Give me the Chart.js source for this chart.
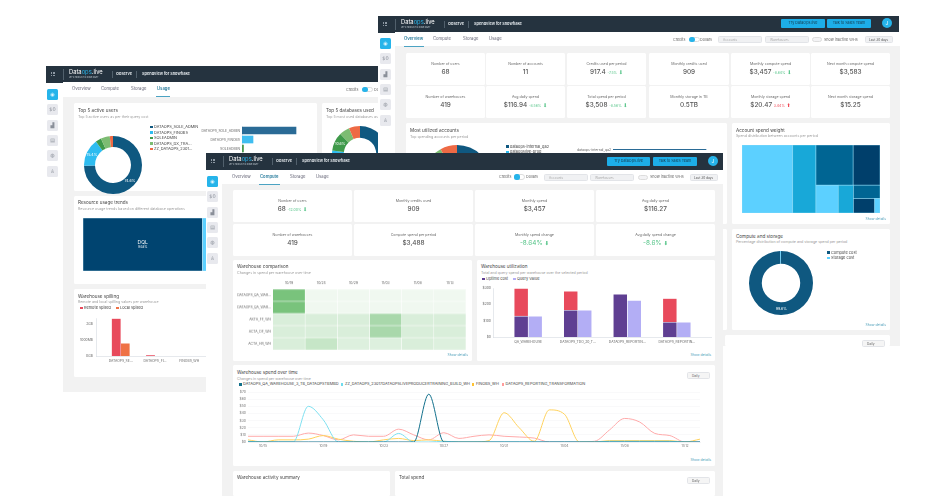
<!DOCTYPE html>
<html>
<head>
<meta charset="utf-8">
<script src="https://cdn.jsdelivr.net/npm/chart.js@4/dist/chart.umd.min.js"></script>
<style>
  html, body { margin: 0; padding: 0; background: #fff; overflow: hidden; }
  #page { position: relative; width: 948px; height: 496px; overflow: hidden; font-family: Inter, sans-serif; color: #444; filter: blur(0.35px); }
  #page div, #page canvas { position: absolute; white-space: nowrap; box-sizing: border-box; }
  .card { background: #fff; border-radius: 1.5px; }
  .gray { background: #f2f2f2; }
  .dark { background: #25333f; }
  .title { font-size: 4.6px; color: #444; }
  .sub { font-size: 3.6px; color: #999; }
  .tab { font-size: 4.2px; color: #667; }
  .tab.on { color: #2d7f9f; font-weight: 600; }
  .ctl { font-size: 3.7px; color: #666; }
  .sel { background: #f0f1f3; border: .4px solid #e2e4e8; border-radius: 1.5px; font-size: 3.2px; color: #aaa; padding-left: 4px; }
  .btn { background: #1daee8; border-radius: 1px; font-size: 3.7px; color: #163a4c; text-align: center; }
  .kt { font-size: 3.6px; color: #666; text-align: center; }
  .kv { font-size: 6.4px; color: #555; text-align: center; font-weight: 500; }
  .up { color: #ef4a57; font-size: 3.5px; font-weight: 400; }
  .down { color: #55c488; font-size: 3.5px; font-weight: 400; }
  .lg { font-size: 3.9px; color: #444; }
  .more { font-size: 3.4px; color: #4b9db8; text-align: right; }
</style>
</head>
<body>
<div id="page"></div>
<script>
// DATA
const spendDates = ['10/14','10/15','10/16','10/17','10/18','10/19','10/20','10/21','10/22','10/23','10/24','10/25','10/26','10/27','10/28','10/29','10/30','10/31','11/01','11/02','11/03','11/04','11/05','11/06','11/07','11/08','11/09','11/10','11/11','11/12','11/13'];
const spendTicks = ['$0','$10','$20','$30','$40','$50','$60','$70'];
const spendQa     = [0,0,0,0,0,0,0,0,0,0,0,0,67,0,0,0,0,0,0,0,0,0,0,0,0,0,0,0,0,0,0];
const spendZz     = [1,0,0,0,50,31,0,0,0,0,12,0,0,1,0,0,0,0,0,0,0,0,0,0,1,1,1,1,1,0,0];
const spendFinobs = [3,0,3,3,4,9,4,1,0,3,5,2,3,1,0,0,2,41,20,1,45,39,0,0,2,2,2,2,2,0,4];
const spendReport = [8,8,8,8,12.5,9,3,10,8,8,18,10,3,13,5,8,10,8,7,5.5,0,0,0,1,17,33,28,12,9,0,0];
const spendNames  = ['DATAOPS_QA_WAREHOUSE_3_TB_DATAOPSTBMBD','ZZ_DATAOPS_23017DATAOPSLIVEPRODUCERTRAINING_BUILD_WH','FINOBS_WH','DATAOPS_REPORTING_TRANSFORMATION'];

const heatDates = ['10/19','10/24','10/29','11/03','11/08','11/13'];
const heatRows  = ['DATAOPS_QA_WAR...','DATAOPS_QA_WAR...','AKTA_FF_WH','ACTA_DF_WH','ACTA_HR_WH'];
const heatRow1  = [100,5,5,5,5,5];
const heatRow2  = [100,5,5,5,5,5];
const heatRow3  = [23,23,23,62,23,23];
const heatRow4  = [23,23,23,62,23,23];
const heatRow5  = [23,38,20,20,23,20];

const utilNames  = ['QA_WAREHOUSE','DATAOPS_TDO_20_T...','DATAOPS_REPORTIN...','DATAOPS_REPORTIN...'];
const utilUptime = [128,164,262,90];
const utilIdle   = [170,116,0,146];
const utilQuery  = [128,164,224,90];
const utilTicks  = ['$0','$100','$200','$300'];

const spillNames  = ['DATAOPS_SE...','DATAOPS_FI...','FINOBS_WH'];
const spillRemote = [2360,40,0];
const spillLocal  = [800,0,0];
const spillTicks  = ['0GB','1000MB','2GB'];

const userNames  = ['DATAOPS_SOLE_ADMIN','DATAOPS_FINOBS','SOLEADMIN','DATAOPS_DX_TRA...','ZZ_DATAOPS_2301...'];
const userShare  = [74.6,15.4,3.2,5,1.8];
const userCost   = [54,11,1.5,1,0.5];
const dbShare    = [68,9,10.6,6,6.4];

const accountNames = ['dataops-internal_qa2','dataopslive-prod'];
const accountShare = [60,26,6,8];
const accountCost  = [93];
const computeNames = ['Compute cost','Storage cost'];
const computeShare = [99.6,0.4];

const weightValues = [36.8,16.8,15.9,11.5,6.6,4.5,3.8,3.3,0.8];
const weightTree   = [0,1,[[2,3],[4,5,[6,[7,8]]]]];
const usageValues  = [94.8,5.2];
const usageLabels  = ['DQL','94.8%'];

const rightKpis = [
  ['Number of users','68'],['Number of accounts','11'],['Credits used per period','917.4','-7.5%','down'],
  ['Monthly credits used','909'],['Monthly compute spend','$3,457','-8.64%','down'],['Next month compute spend','$3,583'],
  ['Number of warehouses','419'],['Avg daily spend','$116.94','-8.56%','down'],['Total spend per period','$3,508','-8.56%','down'],
  ['Monthly storage in TB','0.5TB'],['Monthly storage spend','$20.47','3.44%','up'],['Next month storage spend','$15.25']
];
const frontKpis = [
  ['Number of users','68','-12.00%','down'],['Monthly credits used','909'],['Monthly spend','$3,457'],['Avg daily spend','$116.27'],
  ['Number of warehouses','419'],['Compute spend per period','$3,488'],['Monthly spend change','','-8.64%','big'],['Avg daily spend change','','-8.6%','big']
];

// HELPERS
const page = document.getElementById('page');

function el(cls, x, y, w, h, text, css) {
  const d = document.createElement('div');
  d.className = cls;
  d.style.cssText = `left:${x}px;top:${y}px;` + (w ? `width:${w}px;` : '') + (h ? `height:${h}px;line-height:${h}px;` : '') + (css || '');
  if (text) d.innerHTML = text;
  page.appendChild(d);
  return d;
}

function txt(cls, x, y, text, w, css) { return el(cls, x, y - 4, w, 8, text, css); }

function addCanvas(x, y, w, h) {
  const c = document.createElement('canvas');
  c.width = w; c.height = h;
  c.style.cssText = `left:${x}px;top:${y}px;width:${w}px;height:${h}px;`;
  page.appendChild(c);
  return c.getContext('2d');
}

function pinW(w) { return s => { s.width = w; }; }
function pinH(h) { return s => { s.height = h; }; }
// linear axes don't land on round numbers when min/max are not multiples of the step
function fixedTicks(values) { return s => { s.ticks = values.map(value => ({ value })); }; }
const tickFont = { family: 'Inter', size: 3.4 };

function baseOptions(extra) {
  return Object.assign({
    responsive: false, animation: false, events: [],
    layout: { padding: 0 },
    plugins: { legend: { display: false }, tooltip: { enabled: false } }
  }, extra);
}

// white percentage labels in the slices
const sliceLabels = {
  id: 'sliceLabels',
  afterDatasetsDraw(chart, args, opts) {
    const ctx = chart.ctx, ds = chart.data.datasets[0];
    ctx.save();
    ctx.fillStyle = '#fff';
    ctx.font = '3.6px Inter';
    ctx.textAlign = 'center';
    ctx.textBaseline = 'middle';
    chart.getDatasetMeta(0).data.forEach((arc, i) => {
      if (ds.data[i] < (opts.minShare || 10)) return;
      const p = arc.tooltipPosition();
      ctx.fillText(ds.data[i] + '%', p.x, p.y);
    });
    ctx.restore();
  }
};

function donut(x, y, size, values, colors, cutout) {
  new Chart(addCanvas(x, y, size, size), {
    type: 'doughnut',
    data: { datasets: [{ data: values, backgroundColor: colors, borderWidth: 0 }] },
    options: baseOptions({ cutout: cutout }),
    plugins: [sliceLabels]
  });
}

// treemap laid out from the values through the chart's own linear scales
function splitTree(node, values, box, alongX, out) {
  if (typeof node === 'number') { out.push({ i: node, box: box }); return; }
  const weight = n => typeof n === 'number' ? values[n] : n.reduce((a, b) => a + weight(b), 0);
  const total = weight(node);
  let pos = alongX ? box.x0 : box.y0;
  node.forEach(child => {
    const span = (alongX ? box.x1 - box.x0 : box.y1 - box.y0) * weight(child) / total;
    const sub = alongX ? { x0: pos, x1: pos + span, y0: box.y0, y1: box.y1 } : { x0: box.x0, x1: box.x1, y0: pos, y1: pos + span };
    splitTree(child, values, sub, !alongX, out);
    pos += span;
  });
}

const treemap = {
  id: 'treemap',
  afterDatasetsDraw(chart, args, o) {
    const { ctx, scales } = chart, tiles = [];
    splitTree(o.tree, o.values, { x0: 0, x1: 100, y0: 0, y1: 100 }, true, tiles);
    tiles.forEach(t => {
      const l = scales.x.getPixelForValue(t.box.x0), r = scales.x.getPixelForValue(t.box.x1);
      const a = scales.y.getPixelForValue(t.box.y0), b = scales.y.getPixelForValue(t.box.y1);
      ctx.fillStyle = o.colors[t.i];
      ctx.fillRect(l, a, r - l, b - a);
      ctx.strokeStyle = o.stroke;
      ctx.lineWidth = 0.5;
      ctx.strokeRect(l, a, r - l, b - a);
      if (o.labels && t.i === 0) {
        ctx.fillStyle = '#fff';
        ctx.textAlign = 'center';
        ctx.font = '5px Inter';
        ctx.fillText(o.labels[0], (l + r) / 2, (a + b) / 2 - 0.5);
        ctx.font = '3px Inter';
        ctx.fillText(o.labels[1], (l + r) / 2, (a + b) / 2 + 3.5);
      }
    });
  }
};

function treemapChart(x, y, w, h, values, tree, colors, stroke, labels) {
  new Chart(addCanvas(x, y, w, h), {
    type: 'scatter',
    data: { datasets: [{ data: [] }] },
    options: baseOptions({
      scales: {
        x: { type: 'linear', min: 0, max: 100, display: false },
        y: { type: 'linear', min: 0, max: 100, reverse: true, display: false }
      },
      plugins: { legend: { display: false }, tooltip: { enabled: false }, treemap: { values, tree, colors, stroke, labels } }
    }),
    plugins: [treemap]
  });
}

function hbar(x, y, w, h, labelW, names, values, colors, max, thickness) {
  new Chart(addCanvas(x, y, w, h), {
    type: 'bar',
    data: { labels: names, datasets: [{ data: values, backgroundColor: colors, barThickness: thickness }] },
    options: baseOptions({
      indexAxis: 'y',
      scales: {
        x: { min: 0, max: max, display: false },
        y: {
          afterFit: pinW(labelW),
          grid: { display: false, drawTicks: false },
          border: { color: '#ccd3da', width: 0.5 },
          ticks: { font: tickFont, color: '#666', autoSkip: false, padding: 2 }
        }
      }
    })
  });
}

function header(x, y, w) {
  el('dark', x, y, w, 16.5);
  for (let r = 0; r < 3; r++) for (let c = 0; c < 3; c++) el('', x + 5 + c * 1.7, y + 5.5 + r * 1.7, 1.1, 1.1, '', 'background:#8d98a3');
  el('', x + 17, y + 3, 0.4, 11, '', 'background:#51606c');
  txt('', x + 23, y + 6, 'Data<span style="color:#2ab3e8">ops</span>.live', 0, 'font-size:5.8px;color:#fff;');
  txt('', x + 23, y + 10.8, 'LET\'S PRODUCT IS DONE RIGHT', 0, 'font-size:1.9px;color:#c3ccd3;');
  txt('', x + 70, y + 8, 'Observe', 0, 'font-size:3.9px;color:#e6ebef;font-weight:600;');
  el('', x + 66, y + 5, 0.4, 7, '', 'background:#51606c');
  el('', x + 90, y + 5, 0.4, 7, '', 'background:#51606c');
  txt('', x + 96, y + 8, 'Spendview for Snowflake', 0, 'font-size:3.9px;color:#e6ebef;font-weight:600;');
}

function tabs(xs, y, active, underline) {
  ['Overview','Compute','Storage','Usage'].forEach((t, i) => {
    txt('tab' + (i === active ? ' on' : ''), xs[i], y, t);
  });
  el('', underline[0], y + 6.5, underline[1] - underline[0], 0.7, '', 'background:#4ba3c3');
}

function sidebar(x, y) {
  const marks = ['', '$0', '▟', '▤', '◍', '♙'];
  marks.forEach((m, i) => {
    const on = i === 0;
    el('', x, y + i * 15.3, 11, 11, on ? '◉' : m, `background:${on ? '#26b4ea' : '#e8e9ee'};color:${on ? '#dff5fd' : '#8a8f99'};border-radius:1.5px;font-family:'DejaVu Sans';font-size:5px;text-align:center;`);
  });
}

function kpi(x, y, w, h, k) {
  el('card', x, y, w, h);
  txt('kt', x, y + 10.7, k[0], w);
  let v = k[1];
  if (k[3] === 'big') {
    v = `<span style="color:#55c488;font-weight:400">${k[2]} <span style="font-family:'DejaVu Sans';font-size:5.5px">⬇</span></span>`;
  } else if (k[2]) {
    const arrow = k[3] === 'up' ? '⬆' : '⬇';
    v += ` <span class="${k[3]}">${k[2]}</span> <span class="${k[3]}" style="font-family:'DejaVu Sans';font-size:5px">${arrow}</span>`;
  }
  txt('kv', x, y + 19.3, v, w);
}

function swatch(x, y, color, s) { el('', x, y - (s || 2.6) / 2, s || 2.6, s || 2.6, '', `background:${color}`); }
function legendItem(x, y, color, label, tx) { swatch(x, y, color); txt('lg', tx || x + 4, y, label); }

function controls(o) {
  txt('ctl', o.credits, o.y, 'Credits');
  el('', o.toggle, o.y - 2.7, 11, 5.4, '', 'background:#fff;border:.4px solid #ddd;border-radius:3px;');
  el('', o.toggle, o.y - 2.7, 6, 5.4, '', 'background:#26b4ea;border-radius:2.5px;');
  if (o.dollars) txt('ctl', o.dollars, o.y, 'Dollars');
}

function fullControls(o) {
  controls(o);
  el('sel', o.sel1[0], o.y - 3.5, o.sel1[1] - o.sel1[0], 7, 'Accounts');
  el('sel', o.sel2[0], o.y - 3.5, o.sel2[1] - o.sel2[0], 7, 'Warehouses');
  el('', o.tog2, o.y - 2.5, 10, 5, '', 'background:#f3f3f5;border:.4px solid #ddd;border-radius:3px;');
  txt('ctl', o.tog2 + 12, o.y, 'Show inactive WHs');
  el('sel', o.last[0], o.y - 3.5, o.last[1] - o.last[0], 7, 'Last 30 days', 'color:#555;padding-left:3px;');
}

function daily(x, y) { el('sel', x, y, 23, 6.5, 'Daily', 'color:#666;background:#f5f5f5;padding-left:4px;'); }

// LEFT WINDOW (Usage)
el('', 46, 82, 17, 310, '', 'background:#fff');
el('gray', 63, 82, 330, 310);
header(46, 66, 340);
el('', 63, 82, 330, 15, '', 'background:#fff');
tabs([72, 101, 131, 157], 89, 3, [156, 170]);
sidebar(47, 89);
controls({ credits: 346, toggle: 362, y: 89.5, dollars: 374 });

el('card', 74, 103, 243, 88);
txt('title', 78, 111, 'Top 5 active users');
txt('sub', 78, 116.5, 'Top 5 active users as per their query cost');
const userColors = ['#0f5880','#2ebcf0','#3f9a4a','#7cbc72','#ee6a45'];
donut(84, 136, 58, userShare, userColors, '62%');
userNames.forEach((n, i) => legendItem(150, 127 + i * 5.5, userColors[i], n));
hbar(196, 122, 106, 53, 46, userNames, userCost, ['#2a6b96','#3fbdf0','#4a9a50','#7cbc72','#ee6a45'], 60, 7);

el('card', 322, 103, 80, 88);
txt('title', 326, 111, 'Top 5 databases used');
txt('sub', 326, 116.5, 'Top 5 most used databases as per their query cost');
donut(332, 126, 56, dbShare, ['#0f5880','#2ebcf0','#3f9a4a','#7cbc72','#ee6a45'], '58%');

el('card', 74, 196, 180, 88);
txt('title', 78, 203, 'Resource usage trends');
txt('sub', 78, 209, 'Resource usage trends based on different database operations');
treemapChart(83, 218, 126, 53, usageValues, [0,1], ['#004470','#5cd0ff'], '#bfe6f7', usageLabels);

el('card', 74, 289, 180, 88);
txt('title', 78, 297, 'Warehouse spilling');
txt('sub', 78, 302, 'Remote and local spilling values per warehouse');
legendItem(80, 308, '#e84a5c', 'Remote spilled', 84);
legendItem(116, 308, '#ef7246', 'Local spilled', 120);
new Chart(addCanvas(76, 313, 150, 52), {
  type: 'bar',
  data: {
    datasets: [
      { data: spillRemote.map((v, i) => ({ x: i + 1, y: v })), backgroundColor: '#e84a5c', barThickness: 9, borderColor: '#fff', borderWidth: 0.4 },
      { data: spillLocal.map((v, i) => ({ x: i + 1, y: v })), backgroundColor: '#ef7246', barThickness: 9, borderColor: '#fff', borderWidth: 0.4 }
    ]
  },
  options: baseOptions({
    scales: {
      x: {
        type: 'linear', min: 0.28, max: 4.07, offset: false,
        afterBuildTicks: fixedTicks([1, 2, 3]),
        afterFit: pinH(9),
        grid: { display: false, drawTicks: false, offset: false },
        border: { color: '#ccd3da', width: 0.5 },
        ticks: { font: tickFont, color: '#666', autoSkip: false, maxRotation: 0, padding: 3, callback: v => spillNames[v - 1] || '' }
      },
      y: {
        min: 0, max: 2400,
        afterBuildTicks: fixedTicks([0, 1000, 2000]),
        afterFit: pinW(20),
        grid: { display: false, drawTicks: false },
        border: { color: '#ccd3da', width: 0.5 },
        ticks: { font: tickFont, color: '#666', padding: 3, callback: v => spillTicks[v / 1000] }
      }
    }
  })
});

// RIGHT WINDOW (Overview)
el('', 378, 32, 17, 314, '', 'background:#fff');
el('gray', 395, 46, 505, 300);
header(378, 16, 521);
el('', 395, 32, 504, 14, '', 'background:#fff');
tabs([404, 433, 463, 489], 39, 0, [404, 424]);
sidebar(380, 38);
el('btn', 781, 19, 44, 8.5, 'Try DataOps.live');
el('btn', 827, 19, 44, 8.5, 'Talk to Sales Team');
el('', 882, 18, 10, 10, 'J', 'background:#26b4ea;border-radius:50%;color:#fff;font-size:5px;text-align:center;');
fullControls({ credits: 673, toggle: 689, dollars: 700, y: 39.5, sel1: [718, 762], sel2: [765, 809], tog2: 812, last: [865, 893] });

const rightXs = [406, 486, 567, 649, 731, 811];
const rightWs = [79, 79, 79, 80, 79, 79];
rightKpis.forEach((k, i) => {
  const c = i % 6;
  kpi(rightXs[c], i < 6 ? 53 : 86, rightWs[c], 32, k);
});

el('card', 406, 123, 321, 101);
txt('title', 410, 131, 'Most utilized accounts');
txt('sub', 410, 136.5, 'Top spending accounts per period');
donut(423, 145, 68, accountShare, ['#0f5880','#2ebcf0','#7cbc72','#ee6a45'], '60%');
legendItem(506, 146.5, '#0f5880', accountNames[0]);
legendItem(506, 152, '#2ebcf0', accountNames[1]);
hbar(535, 144.5, 190, 9, 78, [accountNames[0]], accountCost, ['#2a6b96'], 112, 8);

el('card', 406, 229, 321, 101);
el('card', 732, 123, 158, 101);
txt('title', 736, 131, 'Account spend weight');
txt('sub', 736, 136, 'Spend distribution between accounts per period');
treemapChart(742, 145, 138, 68, weightValues, weightTree,
  ['#5cd0ff','#18a8d8','#006593','#003f6b','#5cd0ff','#18a8d8','#006593','#003f6b','#5cd0ff'], '#8fdcf7');
el('more', 840, 217, 46, 4, 'Show details');

el('card', 732, 229, 158, 101);
txt('title', 736, 237, 'Compute and storage');
txt('sub', 736, 242, 'Percentage distribution of compute and storage spend per period');
const computeColors = ['#0f5880','#5cd0ff'];
donut(749, 251, 64, computeShare, computeColors, '60%');
computeNames.forEach((n, i) => legendItem(827, 252.5 + i * 5.5, computeColors[i], n));
el('more', 840, 323, 46, 4, 'Show details');

el('card', 725, 335, 165, 11);
daily(862, 340);

// FRONT WINDOW (Compute)
el('', 206, 170, 16, 326, '', 'background:#fff');
el('gray', 222, 184, 501, 312);
header(206, 153, 517);
el('', 222, 170, 501, 14, '', 'background:#fff');
tabs([232, 260, 290, 316], 177, 1, [259, 280]);
sidebar(207, 176);
el('btn', 607, 157, 43, 8.5, 'Try DataOps.live');
el('btn', 653, 157, 44, 8.5, 'Talk to Sales Team');
el('', 708, 156, 10, 10, 'J', 'background:#26b4ea;border-radius:50%;color:#fff;font-size:5px;text-align:center;');
fullControls({ credits: 499, toggle: 514, dollars: 526, y: 177, sel1: [544, 588], sel2: [590, 634], tog2: 638, last: [690, 718] });

const frontXs = [233, 354, 475, 596];
frontKpis.forEach((k, i) => {
  kpi(frontXs[i % 4], i < 4 ? 190 : 224, 119, 32, k);
});

// heatmap: one stacked bar row per warehouse, one dataset per date
el('card', 233, 260, 239, 101);
txt('title', 237, 267, 'Warehouse comparison');
txt('sub', 237, 273, 'Changes in spend per warehouse over time');
const heatValues = [heatRow1, heatRow2, heatRow3, heatRow4, heatRow5];
const heatColor = v => `rgba(76,175,80,${0.05 + 0.7 * v / 100})`;
new Chart(addCanvas(235, 279, 231, 74.5), {
  type: 'bar',
  data: {
    labels: heatRows,
    datasets: heatDates.map((d, c) => ({
      label: d,
      data: heatRows.map(() => 1),
      backgroundColor: ctx => heatColor(heatValues[ctx.dataIndex][c]),
      borderColor: '#fff', borderWidth: 0.6,
      barPercentage: 1, categoryPercentage: 1
    }))
  },
  options: baseOptions({
    indexAxis: 'y',
    scales: {
      x: {
        stacked: true, type: 'linear', min: 0, max: 6, position: 'top',
        afterBuildTicks: fixedTicks([0.5, 1.5, 2.5, 3.5, 4.5, 5.5]),
        afterFit: pinH(10),
        grid: { display: false, drawTicks: false }, border: { display: false },
        ticks: { font: tickFont, color: '#666', autoSkip: false, maxRotation: 0, padding: 4, callback: v => heatDates[v - 0.5] || '' }
      },
      y: {
        stacked: true,
        afterFit: pinW(38),
        grid: { display: false, drawTicks: false }, border: { display: false },
        ticks: { font: tickFont, color: '#666', autoSkip: false, padding: 2 }
      }
    }
  })
});
el('more', 422, 353, 46, 4, 'Show details');

el('card', 477, 260, 238, 101);
txt('title', 481, 267, 'Warehouse utilization');
txt('sub', 481, 273, 'Total and query spend per warehouse over the selected period');
legendItem(482, 279, '#5f3f92', 'Uptime cost', 486);
legendItem(513, 279, '#b3aef5', 'Query Value', 517);
const utilPoints = arr => arr.map((v, i) => ({ x: i + 1, y: v }));
new Chart(addCanvas(478, 284, 234, 61), {
  type: 'bar',
  data: {
    datasets: [
      { data: utilPoints(utilUptime), stack: 'cost', backgroundColor: '#5f3f92', barThickness: 14, borderColor: '#fff', borderWidth: 0.6 },
      { data: utilPoints(utilIdle), stack: 'cost', backgroundColor: '#e84a5c', barThickness: 14, borderColor: '#fff', borderWidth: 0.6 },
      { data: utilPoints(utilQuery), stack: 'query', backgroundColor: '#b3aef5', barThickness: 14, borderColor: '#fff', borderWidth: 0.6 }
    ]
  },
  options: baseOptions({
    scales: {
      x: {
        type: 'linear', min: 0.29, max: 4.71, stacked: true, offset: false,
        afterBuildTicks: fixedTicks([1, 2, 3, 4]),
        afterFit: pinH(8),
        grid: { display: false, drawTicks: false, offset: false },
        border: { color: '#ccd3da', width: 0.5 },
        ticks: { font: tickFont, color: '#666', autoSkip: false, maxRotation: 0, padding: 3, callback: v => utilNames[v - 1] || '' }
      },
      y: {
        min: 0, max: 300, stacked: true,
        afterFit: pinW(15),
        grid: { display: false, drawTicks: false },
        border: { color: '#ccd3da', width: 0.5 },
        ticks: { font: tickFont, color: '#666', stepSize: 100, padding: 2, callback: v => utilTicks[v / 100] }
      }
    }
  })
});
el('more', 665, 353, 46, 4, 'Show details');

el('card', 233, 365, 482, 101);
txt('title', 237, 372.5, 'Warehouse spend over time');
txt('sub', 237, 378.5, 'Changes in spend per warehouse over time');
const spendColors = ['#12708c','#7fe0f0','#ffd25e','#ffaaaa'];
const legendColors = ['#12708c','#6fdcee','#ffc233','#ff9c9c'];
[[239, 243], [340.5, 345], [471.7, 476], [501.6, 505.5]].forEach((p, i) => {
  legendItem(p[0], 384.3, legendColors[i], spendNames[i], p[1]);
});
daily(687, 372);
new Chart(addCanvas(228, 388, 474, 62), {
  type: 'line',
  data: {
    labels: spendDates,
    datasets: [spendQa, spendZz, spendFinobs, spendReport].map((vals, i) => ({
      label: spendNames[i], data: vals,
      borderColor: spendColors[i], borderWidth: 1,
      pointRadius: 0, cubicInterpolationMode: 'monotone'
    }))
  },
  options: baseOptions({
    scales: {
      x: {
        afterFit: pinH(8),
        grid: { display: false, drawTicks: false },
        border: { color: '#e4e7ea', width: 0.5 },
        ticks: { font: tickFont, color: '#777', autoSkip: false, maxRotation: 0, padding: 2, callback: (v, i) => (i - 1) % 4 === 0 ? spendDates[i] : '' }
      },
      y: {
        min: 0, max: 70,
        afterFit: pinW(20),
        grid: { color: '#f2f3f5', lineWidth: 0.5, drawTicks: false },
        border: { display: false },
        ticks: { font: tickFont, color: '#777', stepSize: 10, padding: 2, callback: v => spendTicks[v / 10] }
      }
    }
  })
});
el('more', 665, 458, 46, 4, 'Show details');

el('card', 233, 471, 157, 25);
txt('title', 237, 478, 'Warehouse activity summary');
el('card', 395, 471, 320, 25);
txt('title', 399, 478, 'Total spend');
daily(687, 477);
</script>
</body>
</html>
